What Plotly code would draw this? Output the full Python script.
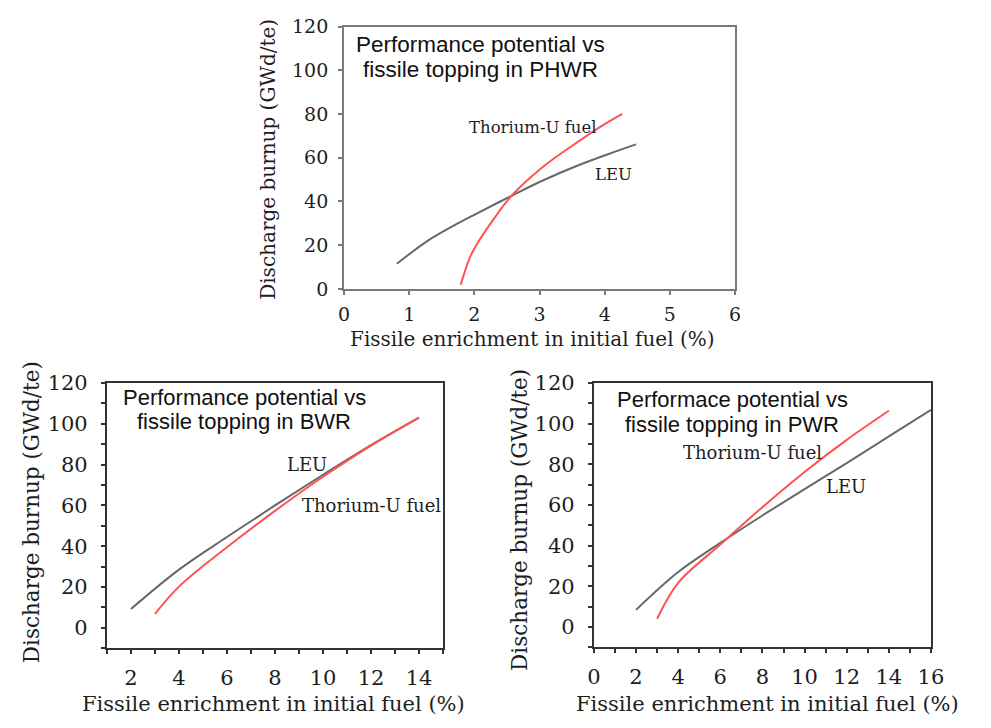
import plotly.graph_objects as go

# ---- data ----
phwr_leu_x = [0.81, 1.04, 1.34, 1.69, 2.05, 2.57, 3.05, 3.55, 4.05, 4.48]
phwr_leu_y = [11.5, 16.8, 23.1, 29.1, 34.7, 42.6, 49.6, 56.0, 61.6, 66.1]
phwr_th_x = [1.79, 1.86, 1.94, 2.05, 2.25, 2.57, 3.05, 3.55, 3.95, 4.27]
phwr_th_y = [1.9, 8.5, 15, 21, 30, 42.6, 55.8, 66.5, 74.5, 80.1]

bwr_leu_x = [2, 4, 6, 8, 10, 12, 14]
bwr_leu_y = [9.2, 28.5, 44.5, 60.0, 75.0, 89.5, 103]
bwr_th_x = [3, 4, 6, 8, 10, 12, 14]
bwr_th_y = [6.8, 20.2, 39.5, 57.3, 74, 89.3, 103]

pwr_leu_x = [2, 4, 6, 8, 10, 12, 14, 16]
pwr_leu_y = [8.4, 27, 41.3, 54.8, 67.8, 80.6, 93.7, 106.8]
pwr_th_x = [3, 4, 6, 8, 10, 12, 14]
pwr_th_y = [4, 21.7, 40.5, 58.9, 76.2, 92.0, 106.3]

y_ticks = [0, 20, 40, 60, 80, 100, 120]
title_lines = [("Performance potential vs", "fissile topping in PHWR"),
               ("Performance potential vs", "fissile topping in BWR"),
               ("Performace potential vs", "fissile topping in PWR")]
x_title = "Fissile enrichment in initial fuel (%)"
y_title = "Discharge burnup (GWd/te)"
lbl_th = "Thorium-U fuel"
lbl_leu = "LEU"

GRAY = "#686868"
RED = "#ff5252"
SERIF = "DejaVu Serif"
SANS = "Liberation Sans"
TXT = "#1e1e1e"

fig = go.Figure()

def add(x, y, color, xa, ya):
    fig.add_trace(go.Scatter(x=x, y=y, mode="lines", line=dict(color=color, width=2, shape="spline"),
                             xaxis=xa, yaxis=ya, showlegend=False, hoverinfo="skip"))

add(phwr_leu_x, phwr_leu_y, GRAY, "x", "y")
add(phwr_th_x, phwr_th_y, RED, "x", "y")
add(bwr_leu_x, bwr_leu_y, GRAY, "x2", "y2")
add(bwr_th_x, bwr_th_y, RED, "x2", "y2")
add(pwr_leu_x, pwr_leu_y, GRAY, "x3", "y3")
add(pwr_th_x, pwr_th_y, RED, "x3", "y3")

W, H = 991, 728
def fx(px):
    return px / W
def fy(py):
    return 1 - py / H
def dx(a, b):
    return [fx(a), fx(b)]
def dy(top, bot):
    return [fy(bot), fy(top)]

def xaxis(domain, rng, dtick, minor, anchor, lc, fs, standoff):
    d = dict(domain=domain, range=rng, dtick=dtick, tick0=0, anchor=anchor,
             showline=True, linecolor=lc, linewidth=2, mirror=True,
             ticks="outside", ticklen=4, tickwidth=1.5, tickcolor=lc,
             showgrid=False, zeroline=False, ticklabelstandoff=standoff,
             tickfont=dict(family=SERIF, size=fs, color=TXT))
    if minor:
        d["minor"] = dict(dtick=minor, ticks="outside", ticklen=4, tickcolor=lc, tickwidth=1.5)
    return d

def yaxis(domain, rng, minor, anchor, lc, fs, standoff):
    d = dict(domain=domain, range=rng, tickvals=y_ticks, anchor=anchor,
             showline=True, linecolor=lc, linewidth=2, mirror=True,
             ticks="outside", ticklen=4, tickwidth=1.5, tickcolor=lc,
             showgrid=False, zeroline=False, ticklabelstandoff=standoff,
             tickfont=dict(family=SERIF, size=fs, color=TXT))
    if minor:
        d["minor"] = dict(tickvals=[v for v in range(-10, 121, 10) if v % 20 != 0],
                          ticks="outside", ticklen=4, tickcolor=lc, tickwidth=1.5)
    return d

fig.update_layout(
    width=W, height=H, margin=dict(l=0, r=0, t=0, b=0),
    paper_bgcolor="white", plot_bgcolor="white",
    xaxis=xaxis(dx(344, 743), [0, 6], 1, None, "y", "#7a7a7a", 19, 3),
    yaxis=yaxis(dy(15, 286), [0, 120], None, "x", "#7a7a7a", 19, 6),
    xaxis2=xaxis(dx(102, 445), [1, 15], 2, 1, "y2", "#333", 21, 6),
    yaxis2=yaxis(dy(383, 657), [-10, 120], True, "x2", "#333", 21, 9),
    xaxis3=xaxis(dx(599, 943), [0, 16], 2, 1, "y3", "#333", 21, 6),
    yaxis3=yaxis(dy(383, 656), [-10, 120], True, "x3", "#333", 21, 9),
)

ann = []
def pa(px, py, text, font, angle=0):
    ann.append(dict(x=fx(px), y=fy(py), xref="paper", yref="paper", text=text, showarrow=False,
                    xanchor="center", yanchor="middle", textangle=angle, font=font))

# panel titles (two lines each)
for (cx, y1, y2, fs), (l1, l2) in zip([(483, 34, 59, 22.5), (242, 398, 423, 22), (740, 400, 426, 22)], title_lines):
    pa(cx, y1, l1, dict(family=SANS, size=fs, color="#111"))
    pa(cx, y2, l2, dict(family=SANS, size=fs, color="#111"))

# axis titles
pa(536, 338, x_title, dict(family=SERIF, size=20, color=TXT))
pa(267, 152, y_title, dict(family=SERIF, size=20, color=TXT), -90)
pa(272, 715, x_title, dict(family=SERIF, size=21, color=TXT))
pa(25, 516, y_title, dict(family=SERIF, size=21.5, color=TXT), -90)
pa(776, 715, x_title, dict(family=SERIF, size=21, color=TXT))
pa(523, 524, y_title, dict(family=SERIF, size=21.5, color=TXT), -90)

labels = [("x", "y", 2.9, 73.9, lbl_th, 16.5), ("x", "y", 4.13, 52.2, lbl_leu, 16.5),
          ("x2", "y2", 9.32, 80.1, lbl_leu, 18), ("x2", "y2", 12.0, 59.7, lbl_th, 18),
          ("x3", "y3", 7.53, 85.7, lbl_th, 18), ("x3", "y3", 11.95, 69, lbl_leu, 18)]
for xr, yr, x, y, t, fs in labels:
    ann.append(dict(x=x, y=y, xref=xr, yref=yr, text=t, showarrow=False,
                    xanchor="center", yanchor="middle",
                    font=dict(family=SERIF, size=fs, color=TXT)))
fig.update_layout(annotations=ann)

fig.write_html("out.html")
